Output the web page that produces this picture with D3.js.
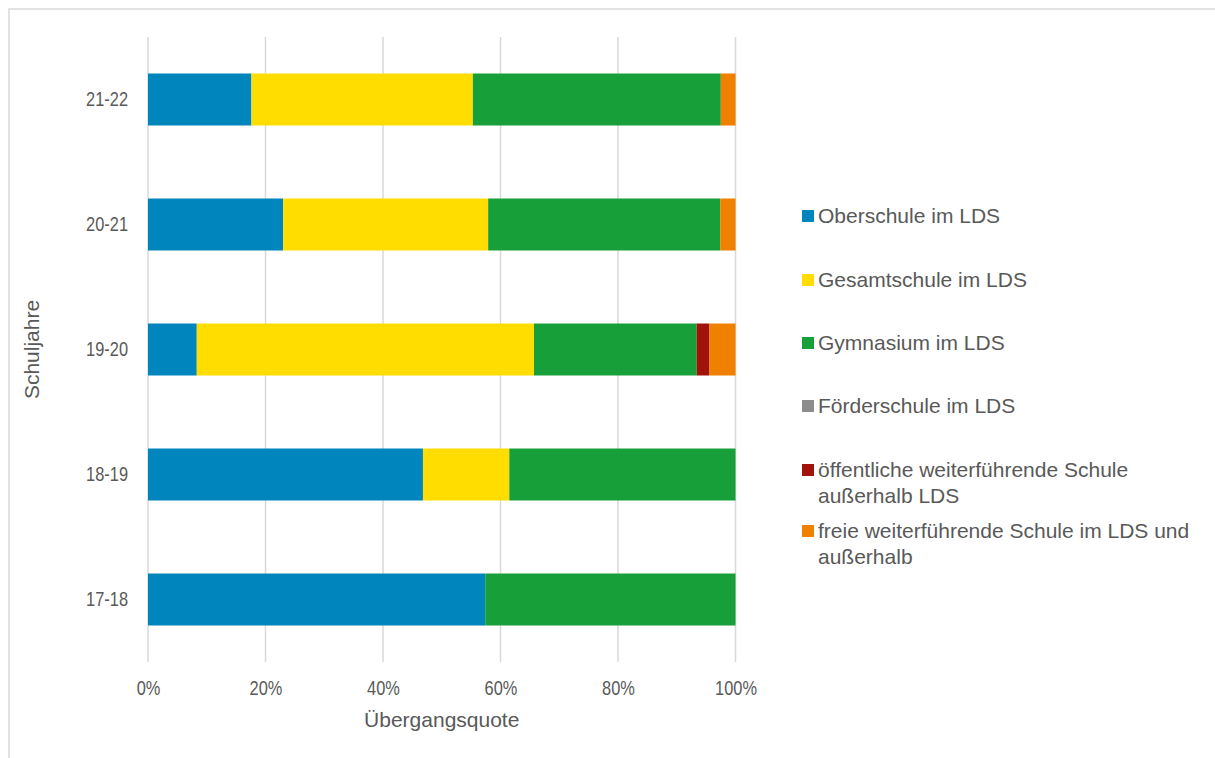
<!DOCTYPE html>
<html>
<head>
<meta charset="utf-8">
<script src="https://cdn.jsdelivr.net/npm/d3@7"></script>
<style>
  html, body { margin: 0; padding: 0; background: #fff; }
  svg { display: block; font-family: "Liberation Sans", Arial, sans-serif; }
</style>
</head>
<body>
<svg id="chart" width="1215" height="758"></svg>
<script>
// School years (bottom to top in the drawing)
const years = ["17-18", "18-19", "19-20", "20-21", "21-22"];

// Share of pupils per school type, percent
const oberschule    = [57.4, 46.8,  8.3, 23.0, 17.6];
const gesamtschule  = [ 0.0, 14.7, 57.4, 34.9, 37.7];
const gymnasium     = [42.6, 38.5, 27.7, 39.5, 42.2];
const foerderschule = [ 0.0,  0.0,  0.0,  0.0,  0.0];
const oeffentlich   = [ 0.0,  0.0,  2.1,  0.0,  0.0];
const freie         = [ 0.0,  0.0,  4.5,  2.6,  2.5];

const seriesNames = [
  "Oberschule im LDS",
  "Gesamtschule im LDS",
  "Gymnasium im LDS",
  "Förderschule im LDS",
  "öffentliche weiterführende Schule außerhalb LDS",
  "freie weiterführende Schule im LDS und außerhalb"
];
const seriesColors = ["#0085BC", "#FFDD00", "#17A03A", "#8C8C8C", "#A0120A", "#F08000"];
const xTicks = [0, 20, 40, 60, 80, 100];

const seriesValues = [oberschule, gesamtschule, gymnasium, foerderschule, oeffentlich, freie];
const table = years.map((y, i) => {
  const row = { year: y };
  seriesNames.forEach((n, k) => { row[n] = seriesValues[k][i]; });
  return row;
});

const svg = d3.select("#chart");
const textColor = "#595959";
const gridColor = "#D9D9D9";
const tickFont = 20;
const tickSqueeze = 0.82;   // condensed tick digits
const labelFont = 21;

// outer chart frame
svg.append("rect")
  .attr("x", 9).attr("y", 9)
  .attr("width", 1220).attr("height", 760)
  .attr("fill", "none").attr("stroke", gridColor).attr("stroke-width", 1.5);

const plot = { left: 148, right: 735.5, top: 37, bottom: 662 };

const x = d3.scaleLinear().domain([0, 100]).range([plot.left, plot.right]);
const y = d3.scaleBand().domain(years.slice().reverse())
  .range([plot.top, plot.bottom]).paddingInner(0.584).paddingOuter(0.292);

// vertical gridlines
svg.append("g").selectAll("line").data(xTicks).join("line")
  .attr("x1", d => x(d)).attr("x2", d => x(d))
  .attr("y1", plot.top).attr("y2", plot.bottom)
  .attr("stroke", gridColor).attr("stroke-width", 1.5);

// stacked bars
const stack = d3.stack().keys(seriesNames);
const layers = stack(table);
svg.append("g").selectAll("g").data(layers).join("g")
  .attr("fill", (d, i) => seriesColors[i])
  .selectAll("rect").data(d => d).join("rect")
  .attr("x", d => x(d[0]))
  .attr("width", d => Math.max(0, x(d[1]) - x(d[0])))
  .attr("y", d => y(d.data.year))
  .attr("height", y.bandwidth());

// x axis labels
const xAxis = d3.axisBottom(x).tickValues(xTicks).tickFormat(d => d + "%").tickSize(0).tickPadding(0);
const gx = svg.append("g").attr("transform", `translate(0,${plot.bottom + 19})`).call(xAxis);
gx.select(".domain").remove();
gx.selectAll("text").attr("fill", textColor).attr("font-size", tickFont).attr("dy", "0.71em")
  .attr("font-family", "Liberation Sans, Arial, sans-serif")
  .attr("transform", `scale(${tickSqueeze},1)`);

// y axis labels
const yAxis = d3.axisLeft(y).tickSize(0).tickPadding(20);
const gy = svg.append("g").attr("transform", `translate(${plot.left},0)`).call(yAxis);
gy.select(".domain").remove();
gy.selectAll("text").attr("fill", textColor).attr("font-size", tickFont)
  .attr("font-family", "Liberation Sans, Arial, sans-serif")
  .attr("x", -20 / tickSqueeze)
  .attr("transform", `scale(${tickSqueeze},1)`);

// axis titles
svg.append("text")
  .attr("x", (plot.left + plot.right) / 2).attr("y", 727)
  .attr("text-anchor", "middle").attr("fill", textColor).attr("font-size", labelFont)
  .text("Übergangsquote");

svg.append("text")
  .attr("transform", `translate(39,${(plot.top + plot.bottom) / 2}) rotate(-90)`)
  .attr("text-anchor", "middle").attr("fill", textColor).attr("font-size", labelFont)
  .text("Schuljahre");

// legend
const legendLines = [
  ["Oberschule im LDS"],
  ["Gesamtschule im LDS"],
  ["Gymnasium im LDS"],
  ["Förderschule im LDS"],
  ["öffentliche weiterführende Schule", "außerhalb LDS"],
  ["freie weiterführende Schule im LDS und", "außerhalb"]
];
const legendY = [216, 280, 343, 406, 470, 531];
const legend = svg.append("g");
seriesNames.forEach((n, i) => {
  const g = legend.append("g").attr("transform", `translate(802,${legendY[i]})`);
  g.append("rect").attr("x", 0).attr("y", -6).attr("width", 12).attr("height", 12)
    .attr("fill", seriesColors[i]);
  const t = g.append("text").attr("x", 16).attr("y", 0).attr("fill", textColor)
    .attr("font-size", labelFont);
  legendLines[i].forEach((line, j) => {
    t.append("tspan").attr("x", 16).attr("dy", j === 0 ? "0.35em" : 26).text(line);
  });
});
</script>
</body>
</html>
